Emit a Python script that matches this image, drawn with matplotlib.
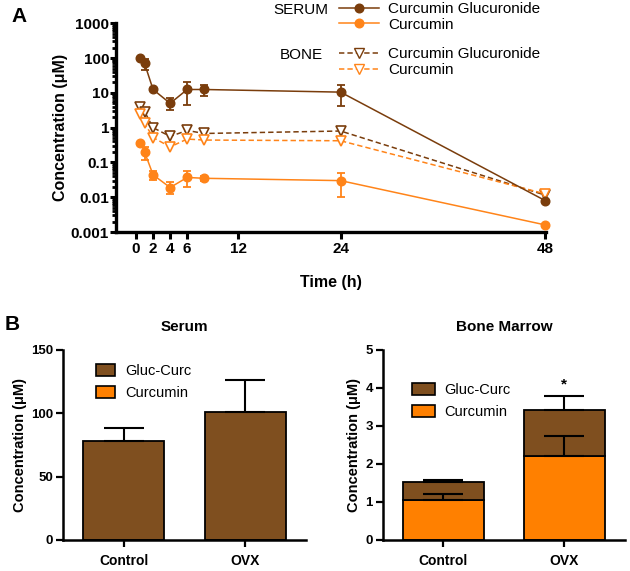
import numpy as np
import matplotlib
matplotlib.use("Agg")
import matplotlib.pyplot as plt
from matplotlib.lines import Line2D
from matplotlib.patches import Patch
from matplotlib.ticker import LogLocator, FixedLocator, NullFormatter

plt.rcParams['font.family'] = ['Liberation Sans', 'DejaVu Sans']

# ---------------- Data: panel A ----------------
time_h = [0.5, 1, 2, 4, 6, 8, 24, 48]
serum_gluc = [100, 70, 12.5, 5.0, 12.5, 12.5, 10.5, 0.008]
serum_gluc_lo = [100, 45, 12.5, 3.3, 4.5, 8.0, 4.2, 0.008]
serum_gluc_hi = [100, 95, 12.5, 7.0, 21, 17, 17, 0.008]
serum_curc = [0.37, 0.20, 0.044, 0.019, 0.037, 0.035, 0.030, 0.0016]
serum_curc_lo = [0.37, 0.12, 0.032, 0.012, 0.020, 0.029, 0.010, 0.0016]
serum_curc_hi = [0.37, 0.28, 0.058, 0.027, 0.058, 0.042, 0.050, 0.0016]
bone_gluc = [3.9, 2.9, 1.0, 0.56, 0.83, 0.68, 0.80, 0.0115]
bone_curc = [2.4, 1.35, 0.52, 0.28, 0.47, 0.44, 0.42, 0.0125]
xticks_a = [0, 2, 4, 6, 12, 24, 48]
yticks_a = [0.001, 0.01, 0.1, 1, 10, 100, 1000]
yticklabels_a = ['0.001', '0.01', '0.1', '1', '10', '100', '1000']

# ---------------- Data: panel B ----------------
groups = ['Control', 'OVX']
serum_gc = [78, 101]
serum_gc_err = [10.5, 25.5]
bm_curc = [1.05, 2.22]
bm_curc_err = [0.15, 0.52]
bm_gc = [0.47, 1.20]          # stacked on top of curcumin
bm_total_err = [0.05, 0.37]

BROWN_L = '#7a3d0c'
ORANGE_L = '#ff8419'
BROWN_B = '#7f4f1f'
ORANGE_B = '#ff8000'

W, H = 630, 571
fig = plt.figure(figsize=(W / 100, H / 100), dpi=100)

def fx(px):
    return px / W

def fy(py):
    return 1 - py / H

# ---------------- Panel A ----------------
axA = fig.add_axes([fx(116), fy(232), fx(546 - 116), (232 - 23.3) / H])
axA.set_yscale('log')
axA.set_xlim(-2.35, 48.1)
axA.set_ylim(0.001, 1000)

t = np.array(time_h)
def err(v, lo, hi):
    v = np.array(v); return [v - np.array(lo), np.array(hi) - v]

MS = 6.2
axA.errorbar(t, serum_gluc, yerr=err(serum_gluc, serum_gluc_lo, serum_gluc_hi),
             color=BROWN_L, marker='o', ms=MS, lw=1.1, capsize=3, elinewidth=1.3,
             capthick=1.3, clip_on=False, zorder=4)
axA.errorbar(t, serum_curc, yerr=err(serum_curc, serum_curc_lo, serum_curc_hi),
             color=ORANGE_L, marker='o', ms=MS, lw=1.1, capsize=3, elinewidth=1.3,
             capthick=1.3, clip_on=False, zorder=4)
axA.plot(t, bone_gluc, color=BROWN_L, ls=(0, (3.5, 2)), lw=1.1, marker='v', ms=6.5,
         mfc='white', mec=BROWN_L, mew=1.2, clip_on=False, zorder=3)
axA.plot(t, bone_curc, color=ORANGE_L, ls=(0, (3.5, 2)), lw=1.1, marker='v', ms=6.5,
         mfc='white', mec=ORANGE_L, mew=1.2, clip_on=False, zorder=3)

axA.xaxis.set_major_locator(FixedLocator(xticks_a))
axA.set_xticklabels([str(v) for v in xticks_a])
axA.yaxis.set_major_locator(FixedLocator(yticks_a))
axA.set_yticklabels(yticklabels_a)
axA.yaxis.set_minor_locator(LogLocator(base=10, subs=np.arange(2, 10)))
axA.yaxis.set_minor_formatter(NullFormatter())
for s in ['top', 'right']:
    axA.spines[s].set_visible(False)
for s in ['left', 'bottom']:
    axA.spines[s].set_linewidth(2.4)
axA.tick_params(axis='both', which='major', width=2.2, length=5, labelsize=11, pad=2)
axA.tick_params(axis='y', which='major', length=4, pad=1)
axA.tick_params(axis='y', which='minor', width=2.0, length=3)
for lab in axA.get_xticklabels() + axA.get_yticklabels():
    lab.set_fontweight('bold')
axA.set_xlabel('Time (h)', fontsize=11.5, fontweight='bold', labelpad=14)
axA.set_ylabel('Concentration (μM)', fontsize=11.5, fontweight='bold', labelpad=2)

# legends panel A
h1 = [Line2D([], [], color=BROWN_L, marker='o', ms=MS, lw=1.1),
      Line2D([], [], color=ORANGE_L, marker='o', ms=MS, lw=1.1)]
h2 = [Line2D([], [], color=BROWN_L, marker='v', ms=6.5, mfc='white', mec=BROWN_L, ls=(0, (3.5, 2)), lw=1.1),
      Line2D([], [], color=ORANGE_L, marker='v', ms=6.5, mfc='white', mec=ORANGE_L, ls=(0, (3.5, 2)), lw=1.1)]
labs = ['Curcumin Glucuronide', 'Curcumin']
legkw = dict(bbox_transform=fig.transFigure, frameon=False, fontsize=11,
             handlelength=2.6, handletextpad=0.6, labelspacing=0.12,
             borderpad=0, borderaxespad=0, loc='upper left')
leg1 = axA.legend(h1, labs, bbox_to_anchor=(fx(339), fy(2)), **legkw)
axA.add_artist(leg1)
axA.legend(h2, labs, bbox_to_anchor=(fx(339), fy(47.5)), **legkw)
fig.text(fx(328), fy(9.5), 'SERUM', ha='right', va='center', fontsize=11)
fig.text(fx(323), fy(55), 'BONE', ha='right', va='center', fontsize=11)
fig.text(fx(11), fy(17), 'A', ha='left', va='center', fontsize=15, fontweight='bold')
fig.text(fx(5), fy(325), 'B', ha='left', va='center', fontsize=15, fontweight='bold')

# ---------------- Panel B ----------------
x = np.arange(len(groups))
bw = 0.667

def style_bar_axes(ax, yticks, ylim):
    ax.set_xlim(-0.5, 1.5)
    ax.set_ylim(*ylim)
    ax.set_yticks(yticks)
    ax.set_xticks(x)
    ax.set_xticklabels(groups)
    for s in ['top', 'right']:
        ax.spines[s].set_visible(False)
    for s in ['left', 'bottom']:
        ax.spines[s].set_linewidth(1.8)
    ax.tick_params(axis='both', width=1.6, length=5, pad=2)
    ax.tick_params(axis='y', labelsize=9.5)
    ax.tick_params(axis='x', labelsize=10, pad=5)
    for lab in ax.get_xticklabels() + ax.get_yticklabels():
        lab.set_fontweight('bold')
    ax.set_ylabel('Concentration (μM)', fontsize=10.5, fontweight='bold', labelpad=3)

axS = fig.add_axes([fx(63), fy(540), fx(306 - 63), 190 / H])
axS.bar(x, serum_gc, bw, color=BROWN_B, edgecolor='black', lw=1.3, zorder=2)
axS.errorbar(x, serum_gc, yerr=[np.zeros(2), serum_gc_err], fmt='none', ecolor='black',
             elinewidth=1.5, capsize=14.5, capthick=1.5, zorder=3)
style_bar_axes(axS, [0, 50, 100, 150], (0, 150))
axS.set_title('Serum', fontsize=11, fontweight='bold', pad=14)
axS.legend([Patch(facecolor=BROWN_B, edgecolor='black', lw=1.2),
            Patch(facecolor=ORANGE_B, edgecolor='black', lw=1.2)],
           ['Gluc-Curc', 'Curcumin'], loc='upper left', bbox_to_anchor=(fx(96), fy(364)),
           bbox_transform=fig.transFigure, frameon=False, fontsize=10.5,
           handlelength=1.3, handleheight=0.9, handletextpad=0.7, labelspacing=0.55,
           borderpad=0, borderaxespad=0)

axM = fig.add_axes([fx(382.7), fy(540), fx(625 - 382.7), 190 / H])
axM.bar(x, bm_curc, bw, color=ORANGE_B, edgecolor='black', lw=1.3, zorder=2)
axM.errorbar(x, bm_curc, yerr=[np.zeros(2), bm_curc_err], fmt='none', ecolor='black',
             elinewidth=1.5, capsize=14.5, capthick=1.5, zorder=4)
axM.bar(x, bm_gc, bw, bottom=bm_curc, color=BROWN_B, edgecolor='black', lw=1.3, zorder=2)
bm_tot = np.array(bm_curc) + np.array(bm_gc)
axM.errorbar(x, bm_tot, yerr=[np.zeros(2), bm_total_err], fmt='none', ecolor='black',
             elinewidth=1.5, capsize=14.5, capthick=1.5, zorder=3)
style_bar_axes(axM, [0, 1, 2, 3, 4, 5], (0, 5))
axM.set_title('Bone Marrow', fontsize=11, fontweight='bold', pad=14)
axM.text(x[1], bm_tot[1] + bm_total_err[1] + 0.13, '*', ha='center', va='bottom',
         fontsize=11, fontweight='bold')
axM.legend([Patch(facecolor=BROWN_B, edgecolor='black', lw=1.2),
            Patch(facecolor=ORANGE_B, edgecolor='black', lw=1.2)],
           ['Gluc-Curc', 'Curcumin'], loc='upper left', bbox_to_anchor=(fx(412), fy(383)),
           bbox_transform=fig.transFigure, frameon=False, fontsize=10.5,
           handlelength=1.6, handleheight=0.9, handletextpad=0.6, labelspacing=0.55,
           borderpad=0, borderaxespad=0)

fig.savefig('out.png', dpi=100)
